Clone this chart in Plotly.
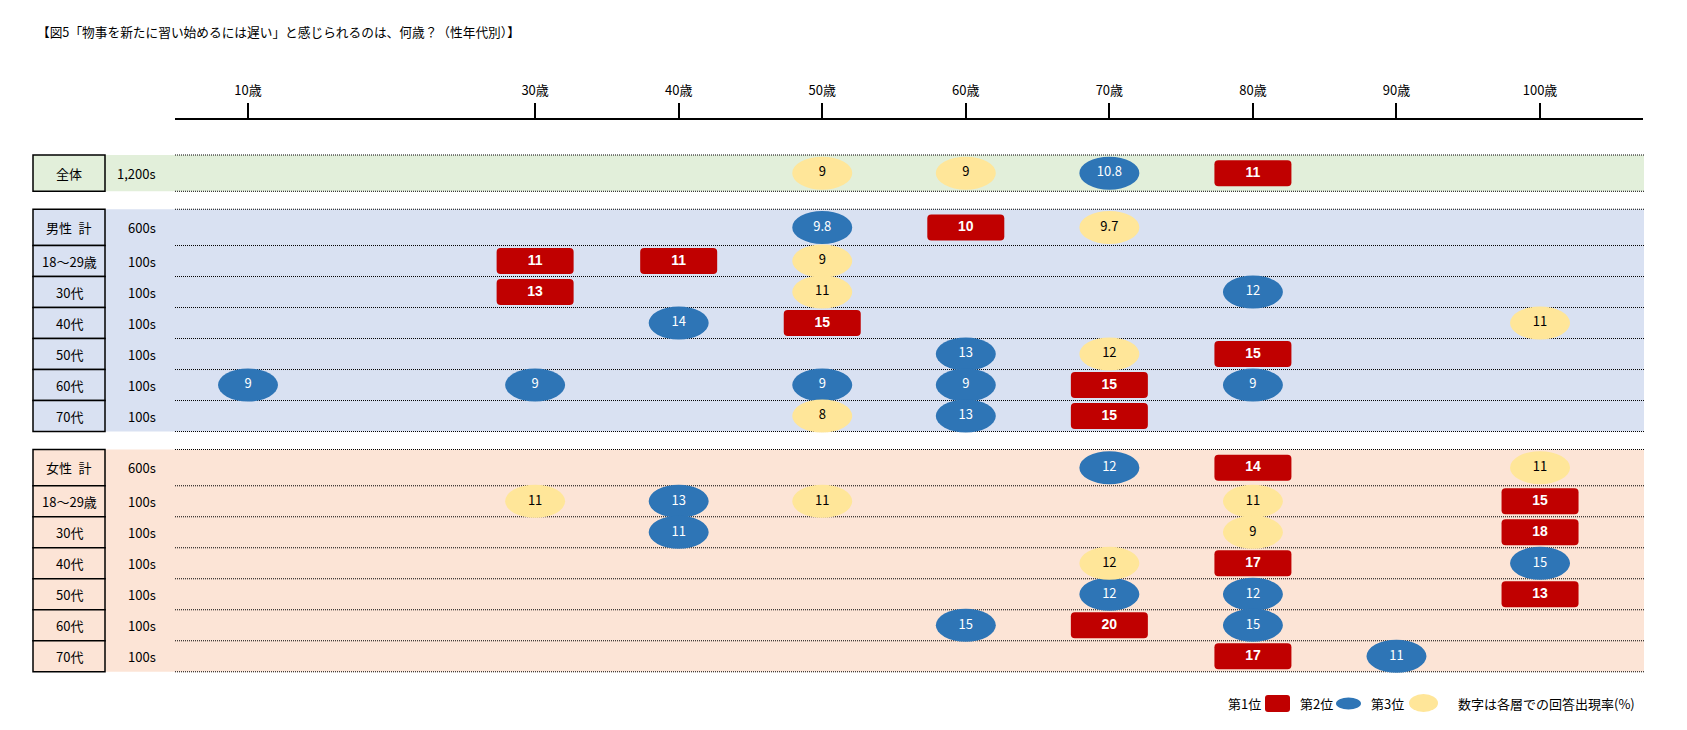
import plotly.graph_objects as go

# ---------------- data ----------------
row_labels = ["全体", "男性\u2002計", "18～29歳", "30代", "40代", "50代", "60代", "70代",
              "女性\u2002計", "18～29歳", "30代", "40代", "50代", "60代", "70代"]
row_n = ["1,200s", "600s", "100s", "100s", "100s", "100s", "100s", "100s",
         "600s", "100s", "100s", "100s", "100s", "100s", "100s"]
row_group = ["all", "male", "male", "male", "male", "male", "male", "male",
             "female", "female", "female", "female", "female", "female", "female"]
row_is_total = [True, True, False, False, False, False, False, False,
                True, False, False, False, False, False, False]

age_ticks = [10, 30, 40, 50, 60, 70, 80, 90, 100]
age_tick_labels = ["10歳", "30歳", "40歳", "50歳", "60歳", "70歳", "80歳", "90歳", "100歳"]

# 第1位
rank1_row = [0, 1, 2, 2, 3, 4, 5, 6, 7, 8, 9, 10, 11, 12, 13, 14]
rank1_age = [80, 60, 30, 40, 30, 50, 80, 70, 70, 80, 100, 100, 80, 100, 70, 80]
rank1_val = [11, 10, 11, 11, 13, 15, 15, 15, 15, 14, 15, 18, 17, 13, 20, 17]
# 第2位
rank2_row = [0, 1, 3, 4, 5, 6, 6, 6, 6, 6, 7, 8, 9, 10, 11, 12, 12, 13, 13, 14]
rank2_age = [70, 50, 80, 40, 60, 10, 30, 50, 60, 80, 60, 70, 40, 40, 100, 70, 80, 60, 80, 90]
rank2_val = [10.8, 9.8, 12, 14, 13, 9, 9, 9, 9, 9, 13, 12, 13, 11, 15, 12, 12, 15, 15, 11]
# 第3位
rank3_row = [0, 0, 1, 2, 3, 4, 5, 7, 8, 9, 9, 9, 10, 11]
rank3_age = [50, 60, 70, 50, 50, 100, 70, 50, 100, 30, 50, 80, 80, 70]
rank3_val = [9, 9, 9.7, 9, 11, 11, 12, 8, 11, 11, 11, 11, 9, 12]

title_text = "【図5「物事を新たに習い始めるには遅い」と感じられるのは、何歳？（性年代別）】"
legend_labels = ["第1位", "第2位", "第3位"]
note_text = "数字は各層での回答出現率(%)"

# ---------------- styles / layout ----------------
PAGE_W, PAGE_H = 1687, 730
OFF = 8                      # default body margin of the html page
FW, FH = PAGE_W - 2 * OFF, PAGE_H - 2 * OFF
FONT = "Noto Sans CJK JP"
RED, BLUE, YELLOW = "#C00000", "#2E75B6", "#FFE699"
BAND = {"all": "#E2EFDA", "male": "#D9E1F2", "female": "#FCE4D6"}

UNIT = 31.0          # px per standard row
TOP_PX = 155.0       # page pixel of first row top
TOTAL_H, GAP = 1.17, 0.58

tops, bottoms = [], []
y = 0.0
for i in range(len(row_labels)):
    if i > 0 and row_group[i] != row_group[i - 1]:
        y += GAP
    h = TOTAL_H if row_is_total[i] else 1.0
    tops.append(y)
    bottoms.append(y + h)
    y += h
centers = [(a + b) / 2 for a, b in zip(tops, bottoms)]


def px(x):
    return (x - OFF) / FW


def py(p):
    return 1 - (p - OFF) / FH


X_LEFT, X_RIGHT = 175, 1643


def age_at(pxv):
    # 10歳 at page x 248, 14.356 px per year
    return 10 + (pxv - 248) / 14.356


fig = go.Figure()
shapes = []
annotations = []

# bands per group
groups = []
for i, g in enumerate(row_group):
    if not groups or groups[-1][0] != g:
        groups.append([g, i, i])
    else:
        groups[-1][2] = i
for g, i0, i1 in groups:
    shapes.append(dict(type="rect", xref="paper", yref="y", x0=px(105), x1=px(1644),
                       y0=tops[i0], y1=bottoms[i1], fillcolor=BAND[g], line=dict(width=0),
                       layer="below"))
# dotted lines
for g, i0, i1 in groups:
    lines_y = [tops[i0]] + [bottoms[i] for i in range(i0, i1 + 1)]
    for ly in lines_y:
        shapes.append(dict(type="line", xref="paper", yref="y", x0=px(X_LEFT), x1=px(1644),
                           y0=ly, y1=ly, line=dict(color="#000000", width=1, dash="1px,1px"),
                           layer="below"))
# label boxes
for i in range(len(row_labels)):
    shapes.append(dict(type="rect", xref="paper", yref="y", x0=px(33), x1=px(105),
                       y0=tops[i], y1=bottoms[i], fillcolor=BAND[row_group[i]],
                       line=dict(color="black", width=1.5), layer="below"))
    annotations.append(dict(x=px(69), y=centers[i], xref="paper", yref="y", text=row_labels[i],
                            showarrow=False, xanchor="center", yanchor="middle",
                            font=dict(family=FONT, size=13, color="black")))
    annotations.append(dict(x=px(158), y=centers[i], xref="paper", yref="y", text=row_n[i],
                            showarrow=False, xanchor="right", yanchor="middle",
                            font=dict(family=FONT, size=13, color="black")))


def rrect_path(hw, hh, r):
    return (f"M {-hw},{-hh + r} Q {-hw},{-hh} {-hw + r},{-hh} L {hw - r},{-hh} "
            f"Q {hw},{-hh} {hw},{-hh + r} L {hw},{hh - r} Q {hw},{hh} {hw - r},{hh} "
            f"L {-hw + r},{hh} Q {-hw},{hh} {-hw},{hh - r} Z")


# markers (positioned through the data axes, sized in pixels)
for r, a in zip(rank1_row, rank1_age):
    shapes.append(dict(type="path", xref="x", yref="y", xsizemode="pixel", ysizemode="pixel",
                       xanchor=a, yanchor=centers[r], path=rrect_path(38.5, 13, 4),
                       fillcolor=RED, line=dict(width=0), layer="below"))
for rows, ages, col in ((rank2_row, rank2_age, BLUE), (rank3_row, rank3_age, YELLOW)):
    for r, a in zip(rows, ages):
        shapes.append(dict(type="circle", xref="x", yref="y", xsizemode="pixel", ysizemode="pixel",
                           xanchor=a, yanchor=centers[r], x0=-30, x1=30, y0=-16.5, y1=16.5,
                           fillcolor=col, line=dict(width=0), layer="below"))


def fmt(v):
    return f"{v:g}"


fig.add_trace(go.Scatter(x=rank1_age, y=[centers[r] for r in rank1_row], mode="text",
                         text=[fmt(v) for v in rank1_val], textposition="middle center",
                         textfont=dict(family="Liberation Sans", size=14, color="white", weight="bold"),
                         hoverinfo="skip", showlegend=False))
fig.add_trace(go.Scatter(x=rank2_age, y=[centers[r] for r in rank2_row], mode="text",
                         text=[fmt(v) for v in rank2_val], textposition="middle center",
                         textfont=dict(family=FONT, size=13, color="white"),
                         hoverinfo="skip", showlegend=False))
fig.add_trace(go.Scatter(x=rank3_age, y=[centers[r] for r in rank3_row], mode="text",
                         text=[fmt(v) for v in rank3_val], textposition="middle center",
                         textfont=dict(family=FONT, size=13, color="black"),
                         hoverinfo="skip", showlegend=False))

# title
annotations.append(dict(x=px(35), y=py(32), xref="paper", yref="paper", text=title_text,
                        showarrow=False, xanchor="left", yanchor="middle",
                        font=dict(family=FONT, size=12.7, color="black")))

# legend
LY = 703
leg_right = [1263, 1335, 1406]
for lab, xr in zip(legend_labels, leg_right):
    annotations.append(dict(x=px(xr), y=py(LY), xref="paper", yref="paper", text=lab,
                            showarrow=False, xanchor="right", yanchor="middle",
                            font=dict(family=FONT, size=13, color="black")))
annotations.append(dict(x=px(1456), y=py(LY), xref="paper", yref="paper", text=note_text,
                        showarrow=False, xanchor="left", yanchor="middle",
                        font=dict(family=FONT, size=13, color="black")))
shapes.append(dict(type="path", xref="paper", yref="paper", xsizemode="pixel", ysizemode="pixel",
                   xanchor=px(1277.5), yanchor=py(703.5), path=rrect_path(12.5, 8.5, 3),
                   fillcolor=RED, line=dict(width=0)))
shapes.append(dict(type="circle", xref="paper", yref="paper", x0=px(1336), x1=px(1361),
                   y0=py(709.5), y1=py(697.5), fillcolor=BLUE, line=dict(width=0)))
shapes.append(dict(type="circle", xref="paper", yref="paper", x0=px(1409), x1=px(1438),
                   y0=py(712), y1=py(694), fillcolor=YELLOW, line=dict(width=0)))

fig.update_layout(
    width=FW, height=FH,
    margin=dict(l=0, r=0, t=0, b=0),
    paper_bgcolor="white", plot_bgcolor="rgba(0,0,0,0)",
    showlegend=False,
    shapes=shapes, annotations=annotations,
    xaxis=dict(domain=[px(X_LEFT), px(X_RIGHT)], range=[age_at(X_LEFT), age_at(X_RIGHT)],
               side="top", anchor="free", position=py(119),
               showline=True, linecolor="black", linewidth=2,
               ticks="outside", ticklen=15, tickwidth=2, tickcolor="black",
               tickvals=age_ticks, ticktext=age_tick_labels, ticklabelstandoff=3,
               tickfont=dict(family=FONT, size=13, color="black"),
               showgrid=False, zeroline=False, fixedrange=True),
    yaxis=dict(domain=[0, 1],
               range=[(PAGE_H - OFF - TOP_PX) / UNIT, (OFF - TOP_PX) / UNIT],
               visible=False, showgrid=False, zeroline=False, fixedrange=True),
)

fig.write_html("out.html", config={"displayModeBar": False})
